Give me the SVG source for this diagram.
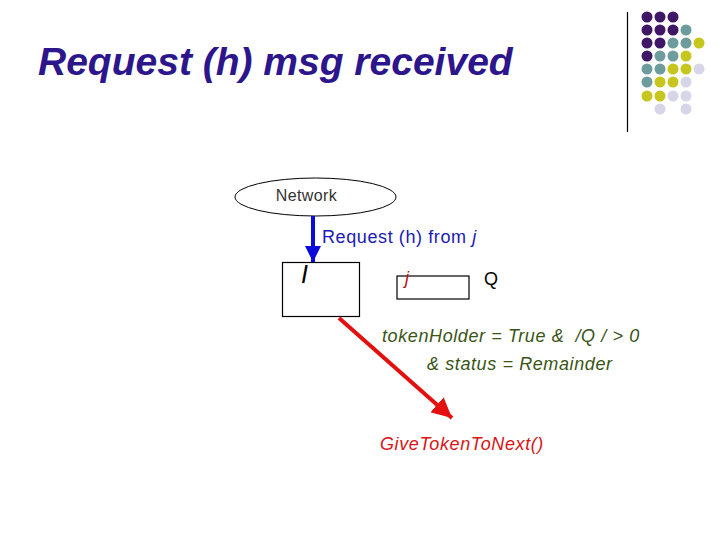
<svg xmlns="http://www.w3.org/2000/svg" width="720" height="540" viewBox="0 0 720 540">
<defs>
<style>
text{font-family:"Liberation Sans",Arial,sans-serif}
.title{font-size:39px;font-weight:bold;font-style:italic;fill:#2D168C}
.p{fill:#3F1766}.t{fill:#6E9C9C}.y{fill:#C6C61E}.l{fill:#D6D6E8}
.box{fill:none;stroke:#000;stroke-width:1.2}
.cond{font-size:18px;font-style:italic;fill:#3A5416;letter-spacing:0.6px;white-space:pre}
</style>
<marker id="blueHead" markerWidth="4" markerHeight="4" refX="4" refY="2" orient="auto" markerUnits="strokeWidth"><path d="M0,0 L4,2 L0,4 Z" fill="#0A0ADC"/></marker>
<marker id="redHead" markerWidth="5" markerHeight="5" refX="5" refY="2.5" orient="auto" markerUnits="strokeWidth"><path d="M0,0 L5,2.5 L0,5 Z" fill="#E41010"/></marker>
</defs>
<rect width="720" height="540" fill="#fff"/>
<text class="title" x="38" y="75">Request (h) msg received</text>
<g id="decor">
<line x1="627.5" y1="12" x2="627.5" y2="132" stroke="#000" stroke-width="1.2"/>
<circle class="p" cx="647" cy="17" r="5.5"/><circle class="p" cx="660" cy="17" r="5.5"/><circle class="p" cx="673" cy="17" r="5.5"/>
<circle class="p" cx="647" cy="30" r="5.5"/><circle class="p" cx="660" cy="30" r="5.5"/><circle class="p" cx="673" cy="30" r="5.5"/><circle class="t" cx="686" cy="30" r="5.5"/>
<circle class="p" cx="647" cy="43" r="5.5"/><circle class="p" cx="660" cy="43" r="5.5"/><circle class="t" cx="673" cy="43" r="5.5"/><circle class="t" cx="686" cy="43" r="5.5"/><circle class="y" cx="699" cy="43" r="5.5"/>
<circle class="p" cx="647" cy="56" r="5.5"/><circle class="t" cx="660" cy="56" r="5.5"/><circle class="t" cx="673" cy="56" r="5.5"/><circle class="y" cx="686" cy="56" r="5.5"/>
<circle class="t" cx="647" cy="69" r="5.5"/><circle class="t" cx="660" cy="69" r="5.5"/><circle class="y" cx="673" cy="69" r="5.5"/><circle class="y" cx="686" cy="69" r="5.5"/><circle class="l" cx="699" cy="69" r="5.5"/>
<circle class="t" cx="647" cy="82" r="5.5"/><circle class="y" cx="660" cy="82" r="5.5"/><circle class="y" cx="673" cy="82" r="5.5"/><circle class="l" cx="686" cy="82" r="5.5"/>
<circle class="y" cx="647" cy="96" r="5.5"/><circle class="y" cx="660" cy="96" r="5.5"/><circle class="l" cx="673" cy="96" r="5.5"/><circle class="l" cx="686" cy="96" r="5.5"/>
<circle class="l" cx="660" cy="109" r="5.5"/><circle class="l" cx="686" cy="109" r="5.5"/>
</g>
<g id="network">
<ellipse cx="315.5" cy="197" rx="80.5" ry="19" fill="none" stroke="#000" stroke-width="1"/>
<text x="306.5" y="201" font-size="16" letter-spacing="0.4" fill="#333" text-anchor="middle">Network</text>
</g>
<g id="node-i">
<rect class="box" x="282.5" y="262.5" width="77" height="54"/>
<text x="301" y="283" font-size="25" font-style="italic" fill="#000">I</text>
</g>
<g id="queue">
<rect class="box" x="397" y="276" width="72" height="23"/>
<text x="405" y="284" font-size="18" font-style="italic" fill="#B01818">j</text>
<text x="484" y="285" font-size="18" fill="#000">Q</text>
</g>
<g id="connectors">
<line x1="313" y1="216" x2="313" y2="262" stroke="#0A0ADC" stroke-width="4" marker-end="url(#blueHead)"/>
<text x="322" y="243" font-size="18" letter-spacing="0.6" fill="#1A1AB4">Request (h) from <tspan font-style="italic">j</tspan></text>
<line x1="339" y1="318" x2="452" y2="418" stroke="#E41010" stroke-width="4" marker-end="url(#redHead)"/>
<text class="cond" x="382" y="342">tokenHolder = True &amp;  /Q / &gt; 0</text>
<text class="cond" x="427" y="370">&amp; status = Remainder</text>
</g>
<g id="action">
<text x="380" y="450" font-size="18" letter-spacing="0.6" font-style="italic" fill="#D81414">GiveTokenToNext()</text>
</g>
</svg>
